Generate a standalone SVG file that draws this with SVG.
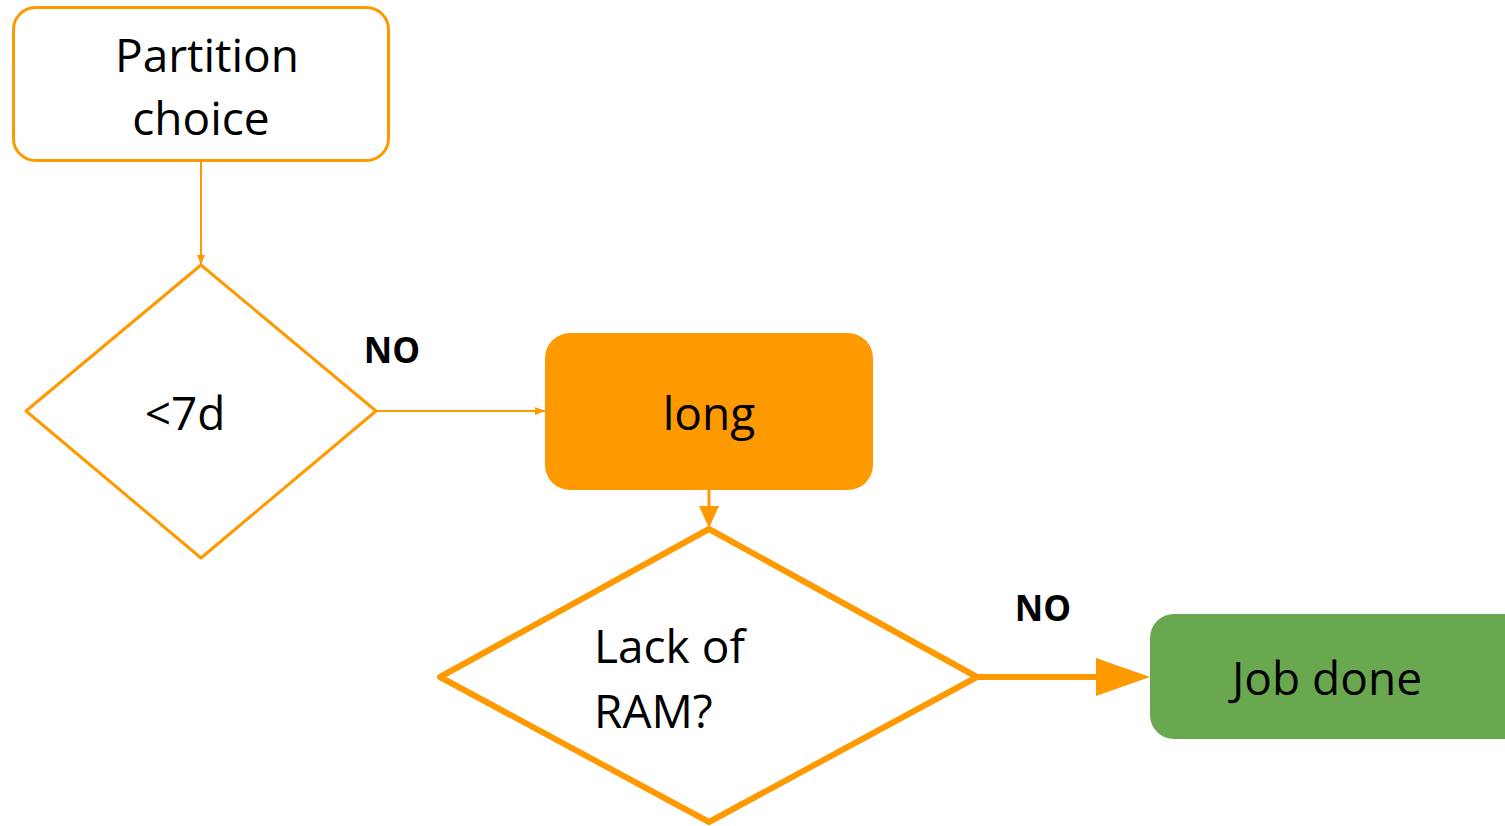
<svg xmlns="http://www.w3.org/2000/svg" width="1505" height="826" viewBox="0 0 1505 826">
<style>
.t{font-family:"Open Sans","Noto Sans",sans-serif;font-size:46px;fill:#000}
.lbl{font-family:"Open Sans","DejaVu Sans",sans-serif;font-size:35px;font-weight:bold;fill:#000}
.o{fill:none;stroke:#FF9900;stroke-linejoin:round}
</style>
<defs>
<marker id="a1" markerWidth="10" markerHeight="8" refX="10" refY="4" orient="auto" markerUnits="userSpaceOnUse"><path d="M0,0 L10,4 L0,8 z" fill="#FF9900"/></marker>
</defs>
<rect width="1505" height="826" fill="#fff"/>
<g id="connectors">
<line x1="201" y1="162" x2="201" y2="265" stroke="#FF9900" stroke-width="2" marker-end="url(#a1)"/>
<line x1="377" y1="411" x2="545" y2="411" stroke="#FF9900" stroke-width="2" marker-end="url(#a1)"/>
<line x1="709" y1="490" x2="709" y2="510" stroke="#FF9900" stroke-width="3"/>
<path d="M699,506 L719,506 L709,528 z" fill="#FF9900"/>
<line x1="977" y1="677" x2="1100" y2="677" stroke="#FF9900" stroke-width="6"/>
<path d="M1096,658 L1150,677 L1096,696 z" fill="#FF9900"/>
<text class="lbl" x="392" y="363" text-anchor="middle">NO</text>
<text class="lbl" x="1043" y="621" text-anchor="middle">NO</text>
</g>
<g id="partition">
<rect class="o" x="13.5" y="7.5" width="375" height="153" rx="22" stroke-width="3"/>
<text class="t" x="207" y="72" text-anchor="middle">Partition</text>
<text class="t" x="201" y="135" text-anchor="middle">choice</text>
</g>
<g id="d7">
<polygon class="o" points="201,265 376,411 201,558 26,411" stroke-width="3"/>
<text class="t" x="185" y="430" text-anchor="middle">&lt;7d</text>
</g>
<g id="long">
<rect x="545" y="333" width="328" height="157" rx="25" fill="#FF9900"/>
<text class="t" x="709" y="430" text-anchor="middle">long</text>
</g>
<g id="ram">
<polygon class="o" points="709,529 977,677 709,822 440,677" stroke-width="6"/>
<text class="t" x="594" y="663">Lack of</text>
<text class="t" x="594" y="728">RAM?</text>
</g>
<g id="done">
<rect x="1150" y="614" width="380" height="125" rx="24" fill="#6AA84F"/>
<text class="t" x="1327" y="695" text-anchor="middle">Job done</text>
</g>
</svg>
